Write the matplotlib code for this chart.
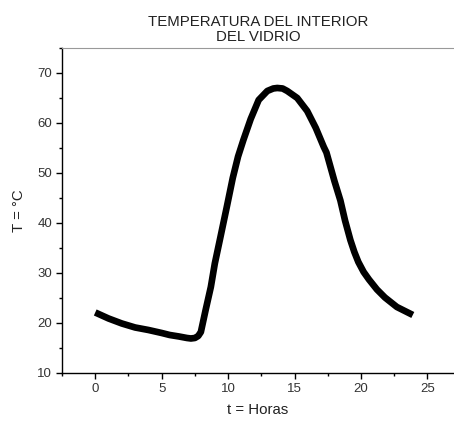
import matplotlib
matplotlib.use("Agg")
import matplotlib.pyplot as plt
from matplotlib.ticker import MultipleLocator

plt.rcParams["font.family"] = ["Liberation Sans", "DejaVu Sans"]

# Values
hours = [0.0, 0.5, 1.0, 1.5, 2.0, 3.0, 4.0, 5.0, 5.6, 6.3, 6.9, 7.2, 7.5,
         7.75, 7.95, 8.3, 8.7, 9.0, 9.4, 9.9, 10.35, 10.75, 11.15, 11.7,
         12.3, 12.95, 13.4, 13.7, 14.1, 14.45, 15.2, 15.95, 16.6, 17.2,
         17.4, 18.0, 18.45, 18.8, 19.2, 19.5, 19.8, 20.2, 20.6, 21.2, 21.8,
         22.7, 23.3, 23.9]
temp = [22.1, 21.5, 20.9, 20.4, 19.9, 19.1, 18.6, 18.0, 17.6, 17.3, 17.0,
        16.9, 17.0, 17.4, 18.2, 22.5, 27.2, 31.9, 36.9, 43.2, 49.0, 53.3,
        56.6, 60.8, 64.6, 66.4, 66.9, 67.0, 66.9, 66.4, 65.0, 62.4, 59.0,
        55.2, 54.1, 48.4, 44.5, 40.5, 36.6, 34.2, 32.2, 30.2, 28.7, 26.7,
        25.1, 23.2, 22.4, 21.6]

fig = plt.figure(figsize=(4.54, 4.25), dpi=100)
ax = fig.add_axes([0.1366, 0.1224, 0.8634, 0.7647])

ax.plot(hours, temp, color="black", lw=4.8, solid_capstyle="butt",
        solid_joinstyle="round")

ax.set_xlim(-2.5, 27.0)
ax.set_ylim(10, 75)
ax.xaxis.set_major_locator(MultipleLocator(5))
ax.xaxis.set_minor_locator(MultipleLocator(2.5))
ax.yaxis.set_major_locator(MultipleLocator(10))
ax.yaxis.set_minor_locator(MultipleLocator(5))

ax.spines["right"].set_visible(False)
ax.spines["top"].set_color("#999999")
ax.spines["top"].set_linewidth(0.8)
ax.spines["left"].set_linewidth(1.0)
ax.spines["bottom"].set_linewidth(1.0)
ax.tick_params(which="major", direction="out", length=4, width=1,
               labelsize=9.5, colors="black", labelcolor="#333333", pad=3)
ax.tick_params(which="minor", direction="out", length=2.5, width=1)

ax.set_xlabel("t = Horas", fontsize=10.8, color="#222222", labelpad=6)
ax.set_ylabel("T = °C", fontsize=10.8, color="#222222", labelpad=8)
ax.set_title("TEMPERATURA DEL INTERIOR\nDEL VIDRIO", fontsize=10.8,
             color="#222222", linespacing=1.05, pad=5)

fig.savefig("out.png", dpi=100, facecolor="white")
